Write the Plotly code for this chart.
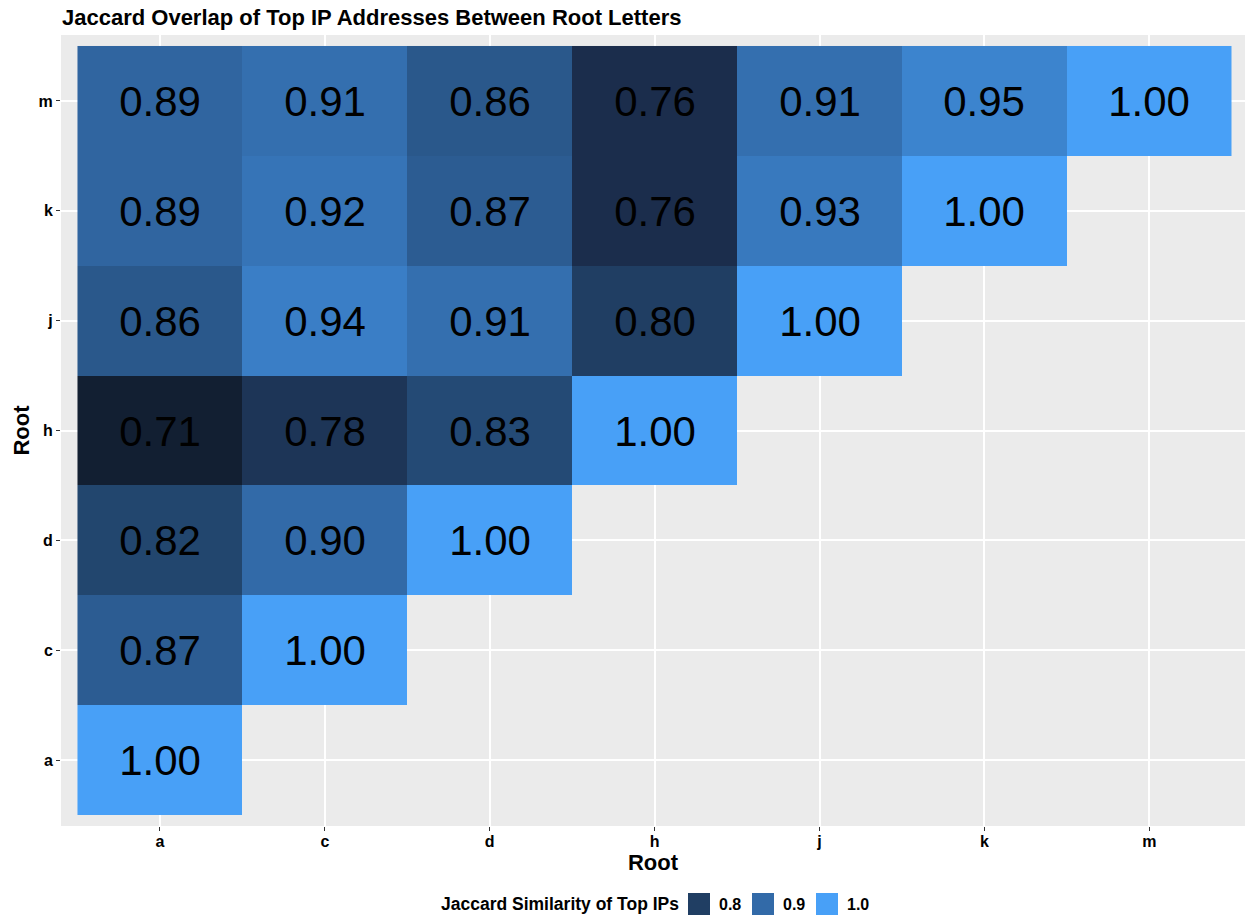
import plotly.graph_objects as go
from plotly.colors import sample_colorscale

roots = ['a', 'c', 'd', 'h', 'j', 'k', 'm']

row_a = [1.00]
row_c = [0.87, 1.00]
row_d = [0.82, 0.90, 1.00]
row_h = [0.71, 0.78, 0.83, 1.00]
row_j = [0.86, 0.94, 0.91, 0.80, 1.00]
row_k = [0.89, 0.92, 0.87, 0.76, 0.93, 1.00]
row_m = [0.89, 0.91, 0.86, 0.76, 0.91, 0.95, 1.00]

legend_breaks = [0.8, 0.9, 1.0]
legend_labels = ['0.8', '0.9', '1.0']

rows = [row_a, row_c, row_d, row_h, row_j, row_k, row_m]
z = []
text = []
for r in rows:
    zr = list(r) + [None] * (len(roots) - len(r))
    z.append(zr)
    text.append([f"{v:.2f}" if v is not None else "" for v in zr])

zmin, zmax = 0.71, 1.00
colorscale = [
    [0.0, '#121F32'],
    [0.172, '#1B2D4C'],
    [0.379, '#22466E'],
    [0.621, '#3065A0'],
    [0.793, '#3A7EC6'],
    [1.0, '#48A0F7'],
]

FONT = 'Liberation Sans, Arial, Helvetica, sans-serif'

fig = go.Figure()
fig.add_trace(go.Heatmap(
    x=roots, y=roots, z=z, text=text, texttemplate='%{text}',
    textfont=dict(size=42, color='black', family=FONT),
    colorscale=colorscale, zmin=zmin, zmax=zmax, showscale=False,
    hoverinfo='skip', xgap=0, ygap=0,
))

W, H = 1247, 919
ml, mr, mt, mb = 61, 2, 35, 919 - 826
pw, ph = W - ml - mr, H - mt - mb

def px_x(px):
    return (px - ml) / pw

def px_y(py):
    return (H - mb - py) / ph

shapes = []
annotations = []
annotations.append(dict(
    text='<b>Jaccard Similarity of Top IPs</b>', xref='paper', yref='paper',
    x=px_x(681), y=px_y(904), xanchor='right', yanchor='middle', showarrow=False,
    font=dict(size=17.5, color='black', family=FONT),
))
sw_colors = sample_colorscale(colorscale, [(b - zmin) / (zmax - zmin) for b in legend_breaks])
x0 = 688
for i, (lab, col) in enumerate(zip(legend_labels, sw_colors)):
    sx = x0 + i * 64
    shapes.append(dict(type='rect', xref='paper', yref='paper',
                       x0=px_x(sx), x1=px_x(sx + 22), y0=px_y(915), y1=px_y(893),
                       fillcolor=col, line=dict(width=0), layer='above'))
    annotations.append(dict(
        text=f'<b>{lab}</b>', xref='paper', yref='paper',
        x=px_x(sx + 29), y=px_y(904), xanchor='left', yanchor='middle', showarrow=False,
        font=dict(size=16, color='black', family=FONT),
    ))

fig.update_layout(
    width=W, height=H,
    margin=dict(l=ml, r=mr, t=mt, b=mb),
    paper_bgcolor='white', plot_bgcolor='#EBEBEB',
    font=dict(family=FONT, color='black'),
    title=dict(text='<b>Jaccard Overlap of Top IP Addresses Between Root Letters</b>',
               x=px_x(62), xref='paper', xanchor='left',
               y=1 - 17 / H, yref='container', yanchor='middle',
               font=dict(size=22, color='black', family=FONT)),
    shapes=shapes, annotations=annotations, showlegend=False,
)
fig.update_xaxes(
    type='category', categoryorder='array', categoryarray=roots,
    range=[-0.6, 6.58], showgrid=True, gridcolor='white', gridwidth=1.6,
    zeroline=False, showline=False, ticks='outside', ticklen=4, tickcolor='#333333',
    tickwidth=1, tickfont=dict(size=16, color='black', family=FONT),
    tickprefix='<b>', ticksuffix='</b>', ticklabelstandoff=-3,
    title=dict(text='<b>Root</b>', font=dict(size=22, color='black', family=FONT), standoff=0),
)
fig.update_yaxes(
    type='category', categoryorder='array', categoryarray=roots,
    range=[-0.6, 6.6], showgrid=True, gridcolor='white', gridwidth=1.6,
    zeroline=False, showline=False, ticks='outside', ticklen=4, tickcolor='#333333',
    tickwidth=1, tickfont=dict(size=16, color='black', family=FONT),
    tickprefix='<b>', ticksuffix='</b>',
    title=dict(text='<b>Root</b>', font=dict(size=22, color='black', family=FONT), standoff=2),
)

fig.write_html('out.html', config={'displayModeBar': False},
               post_script="document.body.style.margin='0';document.body.style.overflow='hidden';")
